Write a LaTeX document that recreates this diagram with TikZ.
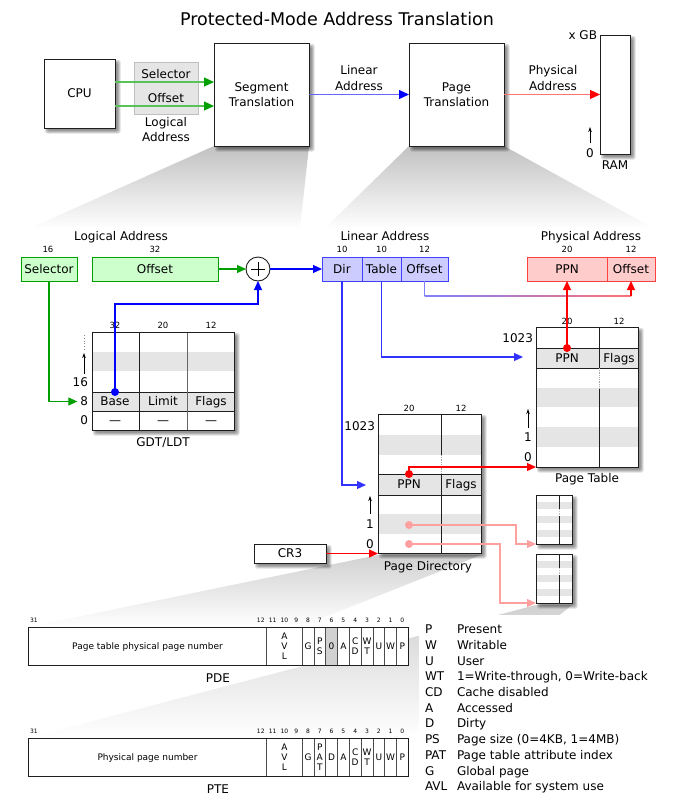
\documentclass[tikz,border=0pt]{standalone}
\usepackage{fontspec}
\setmainfont{DejaVu Sans}
\usetikzlibrary{arrows.meta}
\definecolor{gline}{RGB}{0,160,0}
\definecolor{gfill}{RGB}{204,255,204}
\definecolor{bline}{RGB}{0,0,255}
\definecolor{bfill}{RGB}{204,204,255}
\definecolor{rline}{RGB}{255,0,0}
\definecolor{rfill}{RGB}{255,204,204}
\definecolor{pinkline}{RGB}{255,160,160}
\definecolor{rowgray}{RGB}{229,229,229}
\definecolor{boxline}{RGB}{30,30,30}
\newcommand\boxshadow[4]{%
  \foreach \k in {0,1,2,3}{%
    \fill[black, opacity=0.13, rounded corners=2pt] ({#1+1+\k},{#2+1+\k}) rectangle ({#3+5.5-\k},{#4+5.5-\k});
  }}
\tikzset{
  every node/.style={inner sep=0pt, outer sep=0pt},
  lbl/.style={font=\fontsize{12}{15}\selectfont, text height=8.75pt, text depth=0pt},
  ml/.style={font=\fontsize{12}{15.5}\selectfont, align=center},
  titlef/.style={font=\fontsize{17.5}{20}\selectfont, text height=12.8pt, text depth=0pt},
  num/.style={font=\fontsize{8.5}{10}\selectfont, text height=6.2pt, text depth=0pt},
  bitn/.style={font=\fontsize{6}{7}\selectfont, text height=4.4pt, text depth=0pt},
  fld/.style={font=\fontsize{9}{10}\selectfont, align=center},
  fldt/.style={font=\fontsize{9}{10}\selectfont, text height=6.6pt, text depth=0pt},
  shbox/.style={draw=boxline, line width=1pt, fill=white},
  frame/.style={draw=boxline, line width=1pt},
  grid/.style={draw=boxline, line width=0.8pt},
  tipa/.style={-{Triangle[length=9pt,width=8pt]}},
  conn/.style={line width=1.2pt},
  upar/.style={-{Stealth[length=5pt,width=3.5pt]}, line width=0.8pt},
}
\begin{document}
\begin{tikzpicture}[x=1pt,y=-1pt]
\useasboundingbox (0,0) rectangle (682,809);
% ---------- funnels ----------
\shade[top color=black!24, bottom color=white] (214,146) -- (309,146) -- (300,229) -- (28,229) -- cycle;
\shade[top color=black!24, bottom color=white] (409,146) -- (504,146) -- (655,229) -- (324,229) -- cycle;
\shade[top color=black!18, bottom color=white] (378,555) -- (481,555) -- (300,627) -- (28,627) -- cycle;
\shade[top color=black!18, bottom color=white] (536,605) -- (572,605) -- (408,738) -- (28,738) -- cycle;
\fill[white] (419,615) rectangle (679,801);

% ---------- shadows ----------
\boxshadow{44}{59}{115}{128}
\boxshadow{214}{43}{309}{146}
\boxshadow{409}{43}{504}{146}
\boxshadow{600}{35}{630}{154}
\boxshadow{92}{332}{234}{430}
\boxshadow{536}{327}{638}{467}
\boxshadow{378}{414}{481}{553}
\boxshadow{536}{495}{572}{544}
\boxshadow{536}{554}{572}{603}
\boxshadow{254}{544}{326}{563}

% ---------- top ----------
\node[titlef] (title) at (337,19) {Protected-Mode Address Translation};
\node[shbox, lbl, minimum width=71, minimum height=69, anchor=north west] (cpu) at (44,59) {CPU};
\node[draw=black!25, fill=black!10, minimum width=64, minimum height=52, anchor=north west] (labox) at (134,62) {};
\node[lbl] (tsel) at (166,74) {Selector};
\node[lbl] (toff) at (166,98) {Offset};
\node[ml] (tla) at (166,129.5) {Logical\\Address};
\node[shbox, ml, minimum width=95, minimum height=103, anchor=north west] (seg) at (214,43) {Segment\\Translation};
\node[shbox, ml, minimum width=95, minimum height=103, anchor=north west] (ptr) at (409,43) {Page\\Translation};
\node[shbox, minimum width=30, minimum height=119, anchor=north west] (ram) at (600,35) {};
\coordinate (ysel) at (0,82);
\coordinate (yoff) at (0,106);
\draw[conn, gline!65, -{Triangle[length=10pt,width=9pt,color=gline]}] (cpu.east |- ysel) -- (seg.west |- ysel);
\draw[conn, gline!65, -{Triangle[length=10pt,width=9pt,color=gline]}] (cpu.east |- yoff) -- (seg.west |- yoff);
\draw[conn, bline!60, -{Triangle[length=10pt,width=9pt,color=bline]}] (seg.east) -- (ptr.west);
\draw[conn, rline!55, -{Triangle[length=10pt,width=9pt,color=rline]}] (ptr.east) -- (ram.west);
\node[ml] (tlin) at (359,78) {Linear\\Address};
\node[ml] (tphy) at (553,78) {Physical\\Address};
\node[lbl, anchor=east] (xgb) at (597,35) {x GB};
\node[lbl] (ram0) at (590,153) {0};
\draw[upar] (590,143) -- (590,127);
\node[lbl] (tram) at (615,165) {RAM};

% ---------- logical address ----------
\node[lbl] (tlog) at (121,236) {Logical Address};
\node[num] at (48,249) {16};
\node[num] at (155,249) {32};
\node[draw=gline, fill=gfill, line width=1pt, lbl, minimum width=56, minimum height=24, anchor=north west] (sel) at (21,257) {Selector};
\node[draw=gline, fill=gfill, line width=1pt, lbl, minimum width=126, minimum height=24, anchor=north west] (loff) at (92,257) {Offset};
\node[circle, draw=boxline, line width=0.9pt, fill=white, minimum size=24] (plus) at (258,269) {};
\draw[line width=0.9pt] ([xshift=-7pt]plus.center) -- ([xshift=7pt]plus.center) ([yshift=-7pt]plus.center) -- ([yshift=7pt]plus.center);
\draw[conn, gline, tipa] (loff.east) -- (plus.west);

% ---------- linear address ----------
\node[lbl] (tlin2) at (385,236) {Linear Address};
\node[num] at (342,249) {10};
\node[num] at (381.5,249) {10};
\node[num] at (424.5,249) {12};
\node[draw=bline!75, fill=bfill, line width=1pt, lbl, minimum width=40, minimum height=24, anchor=north west] (dir) at (322,257) {Dir};
\node[draw=bline!75, fill=bfill, line width=1pt, lbl, minimum width=39, minimum height=24, anchor=north west] (tbl) at (362,257) {Table};
\node[draw=bline!75, fill=bfill, line width=1pt, lbl, minimum width=47, minimum height=24, anchor=north west] (lof) at (401,257) {Offset};
\draw[conn, bline, tipa] (plus.east) -- (dir.west);

% ---------- physical address ----------
\node[lbl] (tphy2) at (591,236) {Physical Address};
\node[num] at (567,249) {20};
\node[num] at (631,249) {12};
\node[draw=rline!75, fill=rfill, line width=1pt, lbl, minimum width=80, minimum height=24, anchor=north west] (ppn) at (527,257) {PPN};
\node[draw=rline!75, fill=rfill, line width=1pt, lbl, minimum width=48, minimum height=24, anchor=north west] (pof) at (607,257) {Offset};

% ---------- GDT/LDT ----------
\node[shbox, minimum width=142, minimum height=98, anchor=north west] (gdt) at (92,332) {};
\fill[rowgray] (92,352) rectangle (234,371);
\fill[rowgray] (92,392) rectangle (234,411);
\draw[grid] (92,392) -- (234,392) (92,411) -- (234,411);
\draw[grid] (139,332) -- (139,430);
\draw[grid, draw=black!60] (187,332) -- (187,430);
\draw[frame] (gdt.north west) rectangle (gdt.south east);
\node[num] at (115,325) {32};
\node[num] at (163,325) {20};
\node[num] at (211,325) {12};
\node[lbl] at (115,401.5) {Base};
\node[lbl] at (163,401.5) {Limit};
\node[lbl] at (211,401.5) {Flags};
\node[lbl] at (115,420.5) {—};
\node[lbl] at (163,420.5) {—};
\node[lbl] at (211,420.5) {—};
\node[lbl] at (163,442) {GDT/LDT};
\draw[dotted, black!50, line width=0.8pt] (84,335) -- (84,350);
\draw[upar] (84,374) -- (84,353);
\node[lbl, anchor=east] (g16) at (88,382) {16};
\node[lbl, anchor=east] (g8) at (88,401.5) {8};
\node[lbl, anchor=east] (g0) at (88,420.5) {0};
\draw[conn, gline, tipa] (sel.south) |- ([xshift=-3pt]g8.west);
\coordinate (basedot) at (115,392);
\coordinate (bturn) at (115,304);
\draw[conn, bline, tipa] (basedot) -- (bturn) -| (plus.south);
\fill[bline] (basedot) circle (4);

% ---------- Page Table ----------
\node[shbox, minimum width=102, minimum height=140, anchor=north west] (pt) at (536,327) {};
\fill[rowgray] (536,348) rectangle (638,368);
\fill[rowgray] (536,388) rectangle (638,407);
\fill[rowgray] (536,427) rectangle (638,447);
\draw[grid] (536,348) -- (638,348) (536,368) -- (638,368);
\draw[grid] (599,327) -- (599,368) (599,388) -- (599,467);
\draw[densely dotted, black!35, line width=0.8pt] (599,368) -- (599,388);
\draw[frame] (pt.north west) rectangle (pt.south east);
\node[num] at (567,321) {20};
\node[num] at (619,321) {12};
\node[lbl] at (567,358) {PPN};
\node[lbl] at (619,358) {Flags};
\node[lbl, anchor=east] (pt1023) at (533,338) {1023};
\draw[upar] (528,428) -- (528,409);
\node[lbl] (pt1) at (528,437) {1};
\node[lbl] (pt0) at (528,457) {0};
\node[lbl] (tpt) at (587,478) {Page Table};

% ---------- Page Directory ----------
\node[shbox, minimum width=103, minimum height=139, anchor=north west] (pd) at (378,414) {};
\fill[rowgray] (378,435) rectangle (481,455);
\fill[rowgray] (378,474) rectangle (481,495);
\fill[rowgray] (378,514) rectangle (481,534);
\draw[grid] (378,474) -- (481,474) (378,495) -- (481,495);
\draw[grid] (441,414) -- (441,455) (441,474) -- (441,553);
\draw[densely dotted, black!35, line width=0.8pt] (441,455) -- (441,474);
\draw[frame] (pd.north west) rectangle (pd.south east);
\node[num] at (409,408) {20};
\node[num] at (461,408) {12};
\node[lbl] at (409,484.5) {PPN};
\node[lbl] at (461,484.5) {Flags};
\node[lbl, anchor=east] (pd1023) at (375,426) {1023};
\draw[upar] (370,514) -- (370,496);
\node[lbl] (pd1) at (370,524) {1};
\node[lbl] (pd0) at (370,544) {0};
\node[lbl] (tpd) at (428,566) {Page Directory};

% ---------- small page tables ----------
\foreach \nm/\yy in {spta/495, sptb/554} {
  \node[shbox, minimum width=36, minimum height=49, anchor=north west] (\nm) at (536,\yy) {};
  \fill[rowgray] (536,\yy+7) rectangle (572,\yy+14);
  \fill[rowgray] (536,\yy+21) rectangle (572,\yy+28);
  \fill[rowgray] (536,\yy+35) rectangle (572,\yy+42);
  \draw[grid] (559,\yy) -- (559,\yy+14) (559,\yy+21) -- (559,\yy+49);
  \draw[densely dotted, black!25, line width=0.8pt] (559,\yy+14) -- (559,\yy+21);
  \draw[frame] (\nm.north west) rectangle (\nm.south east);
}

% ---------- CR3 ----------
\node[shbox, lbl, minimum width=72, minimum height=19, anchor=north west] (cr3) at (254,544) {CR3};
\draw[conn, rline, tipa] (cr3.east) -- (pd.south west |- cr3.east);

% ---------- connectors middle ----------
\coordinate (pdin) at (366,485);
\coordinate (ptin) at (523,357);
\draw[conn, bline!80, tipa] (dir.south) |- (pdin);
\draw[conn, bline!80, tipa] (tbl.south) |- (ptin);
\coordinate (oturn) at (424.5,296);
\coordinate (oend) at (631,296);
\draw[conn, bline!50] (lof.south) -- (oturn);
\shade[left color=bline!50, right color=rline!55] (424.5,295.4) rectangle (631,296.6);
\draw[conn, rline, tipa] (oend) -- (pof.south);
\coordinate (ptdot) at (567,348);
\draw[conn, rline, tipa] (ptdot) -- (ppn.south);
\fill[rline] (ptdot) circle (4);
\coordinate (pddot) at (409,474);
\draw[conn, rline, tipa] (pddot) |- (pt.south west);
\fill[rline] (pddot) circle (4);
\coordinate (pdd1) at (409,525);
\coordinate (pdd0) at (409,544);
\draw[conn, pinkline, tipa] (pdd1) -- (516,525) |- (spta.south west);
\draw[conn, pinkline, tipa] (pdd0) -- (500,544) |- (sptb.south west);
\fill[pinkline] (pdd1) circle (4);
\fill[pinkline] (pdd0) circle (4);

% ---------- PDE ----------
\node[frame, fill=white, minimum width=380, minimum height=38, anchor=north west] (pde) at (28.3,627) {};
\fill[black!18] (325.7,627) rectangle (337.5,665);
\foreach \b in {12,9,8,7,6,5,4,3,2,1} \draw[grid, draw=black!70] ({408.3-\b*11.8},627) -- ++(0,38);
\draw[frame] (pde.north west) rectangle (pde.south east);
\foreach \b in {0,...,12} \node[bitn] at ({408.3-(\b+0.5)*11.8},620) {\b};
\node[bitn] at (34,620) {31};
\node[fldt] at (147.5,646) {Page table physical page number};
\node[fld] at (284.4,646) {A\\V\\L};
\node[fldt] at (308,646) {G};
\node[fld] at (319.8,646) {P\\S};
\node[fldt] at (331.6,646) {0};
\node[fldt] at (343.4,646) {A};
\node[fld] at (355.2,646) {C\\D};
\node[fld] at (367,646) {W\\T};
\node[fldt] at (378.8,646) {U};
\node[fldt] at (390.6,646) {W};
\node[fldt] at (402.4,646) {P};
\node[lbl] (tpde) at (218,678) {PDE};

% ---------- PTE ----------
\node[frame, fill=white, minimum width=380, minimum height=38, anchor=north west] (pte) at (28.3,738) {};
\foreach \b in {12,9,8,7,6,5,4,3,2,1} \draw[grid, draw=black!70] ({408.3-\b*11.8},738) -- ++(0,38);
\draw[frame] (pte.north west) rectangle (pte.south east);
\foreach \b in {0,...,12} \node[bitn] at ({408.3-(\b+0.5)*11.8},731) {\b};
\node[bitn] at (34,731) {31};
\node[fldt] at (147.5,757) {Physical page number};
\node[fld] at (284.4,757) {A\\V\\L};
\node[fldt] at (308,757) {G};
\node[fld] at (319.8,757) {P\\A\\T};
\node[fldt] at (331.6,757) {D};
\node[fldt] at (343.4,757) {A};
\node[fld] at (355.2,757) {C\\D};
\node[fld] at (367,757) {W\\T};
\node[fldt] at (378.8,757) {U};
\node[fldt] at (390.6,757) {W};
\node[fldt] at (402.4,757) {P};
\node[lbl] (tpte) at (218,789) {PTE};

% ---------- legend ----------
\node[lbl, anchor=west] at (425,629) {P};   \node[lbl, anchor=west] at (457,629) {Present};
\node[lbl, anchor=west] at (425,645) {W};   \node[lbl, anchor=west] at (457,645) {Writable};
\node[lbl, anchor=west] at (425,661) {U};   \node[lbl, anchor=west] at (457,661) {User};
\node[lbl, anchor=west] at (425,676) {WT};  \node[lbl, anchor=west] at (457,676) {1=Write-through, 0=Write-back};
\node[lbl, anchor=west] at (425,692) {CD};  \node[lbl, anchor=west] at (457,692) {Cache disabled};
\node[lbl, anchor=west] at (425,708) {A};   \node[lbl, anchor=west] at (457,708) {Accessed};
\node[lbl, anchor=west] at (425,723) {D};   \node[lbl, anchor=west] at (457,723) {Dirty};
\node[lbl, anchor=west] at (425,739) {PS};  \node[lbl, anchor=west] at (457,739) {Page size (0=4KB, 1=4MB)};
\node[lbl, anchor=west] at (425,755) {PAT}; \node[lbl, anchor=west] at (457,755) {Page table attribute index};
\node[lbl, anchor=west] at (425,771) {G};   \node[lbl, anchor=west] at (457,771) {Global page};
\node[lbl, anchor=west] at (425,786) {AVL}; \node[lbl, anchor=west] at (457,786) {Available for system use};
\end{tikzpicture}
\end{document}
